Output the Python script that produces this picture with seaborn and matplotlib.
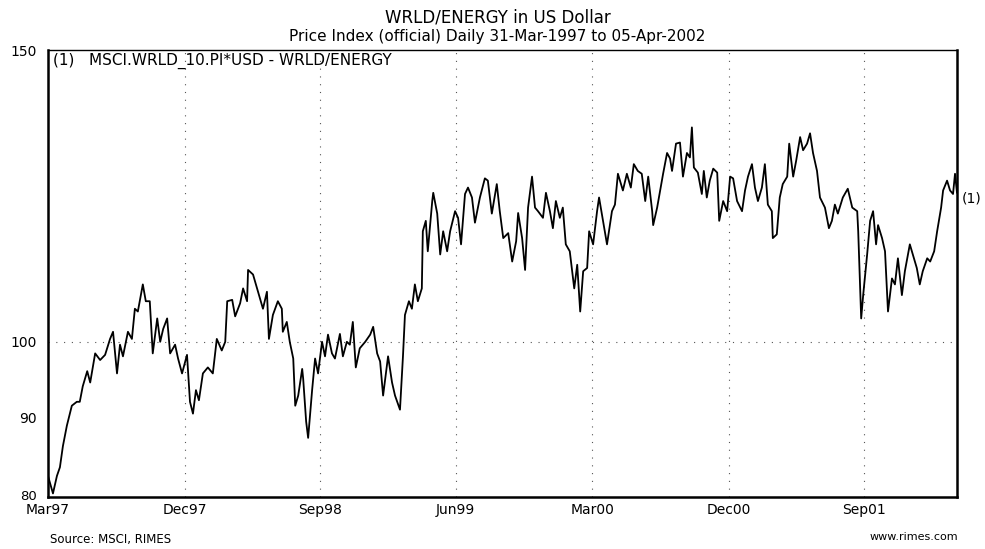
import numpy as np
import pandas as pd
import matplotlib
matplotlib.use("Agg")
import matplotlib.pyplot as plt
import matplotlib.transforms as mtransforms
import seaborn as sns

# Day offsets from 31-Mar-1997 and index values
day_offsets = [0, 10, 18, 24, 30, 38, 48, 58, 64, 70, 79, 85, 95, 105, 115, 125, 131, 139, 145, 151,
               161, 169, 175, 181, 191, 197, 205, 211, 220, 226, 232, 240, 246, 256, 262, 270, 280, 286, 292, 298,
               304, 312, 322, 332, 340, 350, 357, 361, 371, 377, 387, 393, 401, 403, 413, 423, 433, 441, 445, 453,
               463, 471, 473, 481, 487, 494, 498, 504, 512, 514, 520, 524, 532, 538, 544, 552, 558, 564, 572, 578,
               588, 594, 602, 608, 614, 620, 628, 639, 649, 655, 663, 669, 675, 685, 693, 699, 709, 715, 719, 727,
               733, 739, 745, 753, 755, 761, 765, 774, 776, 784, 790, 796, 804, 810, 820, 826, 832, 840, 846, 854,
               860, 870, 880, 886, 894, 904, 910, 917, 927, 935, 943, 947, 955, 961, 967, 975, 981, 987, 997, 1003,
               1011, 1017, 1023, 1031, 1037, 1043, 1051, 1060, 1066, 1072, 1078, 1086, 1090, 1098, 1106, 1110, 1118, 1126, 1136, 1142,
               1148, 1158, 1166, 1174, 1180, 1188, 1196, 1203, 1209, 1217, 1219, 1227, 1233, 1239, 1247, 1253, 1257, 1265, 1273, 1279,
               1287, 1293, 1297, 1301, 1309, 1317, 1321, 1327, 1333, 1340, 1348, 1352, 1360, 1368, 1374, 1380, 1388, 1398, 1404, 1410,
               1418, 1424, 1430, 1438, 1444, 1450, 1458, 1460, 1468, 1474, 1480, 1489, 1493, 1501, 1507, 1515, 1521, 1529, 1535, 1541,
               1549, 1555, 1565, 1573, 1579, 1585, 1591, 1601, 1611, 1620, 1630, 1632, 1638, 1642, 1650, 1656, 1662, 1668, 1672, 1680,
               1686, 1692, 1700, 1706, 1712, 1720, 1726, 1736, 1742, 1750, 1756, 1762, 1771, 1777, 1785, 1791, 1799, 1803, 1811, 1817,
               1823, 1827, 1831]
index_values = [83.0, 81.0, 83.0, 84.0, 86.5, 89.0, 91.5, 92.0, 92.0, 94.0, 96.0, 94.5, 98.4, 97.5, 98.2, 100.4, 101.4, 95.7, 99.6, 98.0,
                101.4, 100.4, 104.7, 104.3, 108.3, 105.8, 105.8, 98.4, 103.3, 100.0, 101.8, 103.3, 98.4, 99.6, 97.7, 95.7, 98.2, 92.0, 90.5, 93.5,
                92.2, 95.7, 96.5, 95.7, 100.4, 98.8, 100.0, 105.8, 106.0, 103.6, 105.5, 107.7, 105.8, 110.5, 109.8, 107.2, 104.7, 107.2, 100.4, 103.8,
                105.8, 104.7, 101.4, 102.8, 100.0, 97.7, 91.5, 92.8, 96.3, 95.0, 89.5, 87.5, 93.5, 97.7, 95.7, 100.0, 98.0, 101.0, 98.4, 97.7,
                101.1, 98.0, 100.0, 99.6, 102.8, 96.5, 99.1, 100.0, 101.0, 102.1, 98.4, 97.3, 92.8, 98.0, 94.5, 92.8, 91.0, 98.0, 103.8, 105.8,
                104.7, 108.3, 105.8, 107.7, 116.6, 118.3, 113.4, 121.6, 123.0, 119.5, 112.9, 116.6, 113.4, 116.6, 119.9, 118.8, 114.5, 122.8, 123.9, 122.2,
                118.0, 122.2, 125.5, 125.1, 119.5, 124.5, 119.9, 115.5, 116.3, 111.8, 115.0, 119.6, 115.5, 110.5, 120.5, 125.8, 120.5, 119.9, 118.8, 123.0,
                119.9, 117.1, 121.6, 118.8, 120.5, 114.5, 113.4, 107.7, 111.3, 104.3, 110.3, 110.8, 116.6, 114.5, 119.9, 122.2, 118.3, 114.5, 119.9, 121.0,
                126.3, 123.4, 126.3, 123.9, 128.0, 126.8, 126.3, 121.6, 125.8, 119.9, 117.6, 120.5, 123.4, 126.3, 130.0, 129.0, 126.8, 131.7, 131.9, 125.8,
                130.0, 129.2, 134.7, 127.4, 126.5, 122.8, 126.8, 122.2, 125.1, 127.2, 126.5, 118.3, 121.6, 119.9, 125.8, 125.5, 121.6, 119.9, 123.4, 125.8,
                128.0, 123.9, 121.6, 123.9, 128.0, 121.0, 119.9, 115.5, 116.1, 122.2, 124.5, 125.8, 131.7, 125.8, 128.6, 132.9, 130.5, 131.7, 133.6, 130.0,
                126.8, 122.2, 120.5, 117.1, 118.3, 121.0, 119.5, 122.2, 123.7, 120.5, 119.9, 116.6, 103.3, 106.7, 112.9, 118.3, 119.9, 114.5, 117.6, 115.5,
                113.4, 104.3, 109.2, 108.3, 112.3, 106.7, 110.3, 114.5, 112.9, 110.8, 108.3, 110.3, 112.3, 111.8, 113.4, 116.6, 120.5, 123.4, 125.1, 123.4,
                122.8, 126.3, 123.0]

ytick_values = [80, 90, 100, 150]
ytick_labels = ["80", "90", "100", "150"]
xtick_dates = ["1997-03-31", "1997-12-31", "1998-09-30", "1999-06-30", "2000-03-31", "2000-12-31", "2001-09-30"]
xtick_labels = ["Mar97", "Dec97", "Sep98", "Jun99", "Mar00", "Dec00", "Sep01"]
series_label_value = 122.0

start = pd.Timestamp("1997-03-31")
end = pd.Timestamp("2002-04-05")
df = pd.DataFrame({"date": start + pd.to_timedelta(day_offsets, unit="D"), "value": index_values})

sns.set_style("white")
plt.rcParams["font.family"] = ["DejaVu Sans"]
plt.rcParams["text.color"] = "black"

fig = plt.figure(figsize=(9.85, 5.49), dpi=100)
ax = fig.add_axes([48 / 985, 1 - 497 / 549, 909 / 985, 447 / 549])

sns.lineplot(data=df, x="date", y="value", ax=ax, color="black", linewidth=1.3, estimator=None)

ax.set_yscale("log")
ax.set_ylim(80.6, 149.6)
ax.set_xlim(start, end)
ax.yaxis.set_minor_locator(matplotlib.ticker.NullLocator())
ax.set_yticks(ytick_values[1:])
ax.set_yticklabels(ytick_labels[1:])
ytrans = mtransforms.blended_transform_factory(ax.transAxes, ax.transData)
# bottom label "80" sits at the lower edge of the axis, just above the first date label
ax.text(-11 / 909, 0.0, ytick_labels[0], transform=ax.transAxes, ha="right", va="center",
        fontsize=9.5, clip_on=False)
xt = pd.to_datetime(xtick_dates)
ax.set_xticks(xt)
ax.set_xticklabels(xtick_labels)
ax.tick_params(axis="both", direction="in", length=4, width=1, labelsize=10, colors="black")
ax.tick_params(axis="y", pad=8)
ax.tick_params(axis="x", pad=4)
ax.set_xlabel("")
ax.set_ylabel("")

# dotted grid
for d in xt[1:]:
    ax.axvline(d, color="#555555", linestyle=(0, (1, 6)), linewidth=0.8, zorder=0)
ax.axhline(100, color="#555555", linestyle=(0, (1, 6)), linewidth=0.8, zorder=0)

for side in ["left", "bottom", "right"]:
    ax.spines[side].set_linewidth(1.8)
    ax.spines[side].set_color("black")
ax.spines["top"].set_linewidth(1.0)
ax.spines["top"].set_color("black")

fig.text(0.505, 1 - 17 / 549, "WRLD/ENERGY in US Dollar", ha="center", va="center", fontsize=12)
fig.text(0.505, 1 - 37 / 549, "Price Index (official) Daily 31-Mar-1997 to 05-Apr-2002", ha="center", va="center", fontsize=11)
ax.text(0.006, 0.975, "(1)   MSCI.WRLD_10.PI*USD - WRLD/ENERGY", transform=ax.transAxes, ha="left", va="center", fontsize=11)
ax.text(1.005, series_label_value, "(1)", transform=ytrans, ha="left", va="center", fontsize=10, clip_on=False)
fig.text(50 / 985, 1 - 539 / 549, "Source: MSCI, RIMES", ha="left", va="center", fontsize=8.5)
fig.text(958 / 985, 1 - 537 / 549, "www.rimes.com", ha="right", va="center", fontsize=8)

fig.savefig("out.png", dpi=100, facecolor="white")
